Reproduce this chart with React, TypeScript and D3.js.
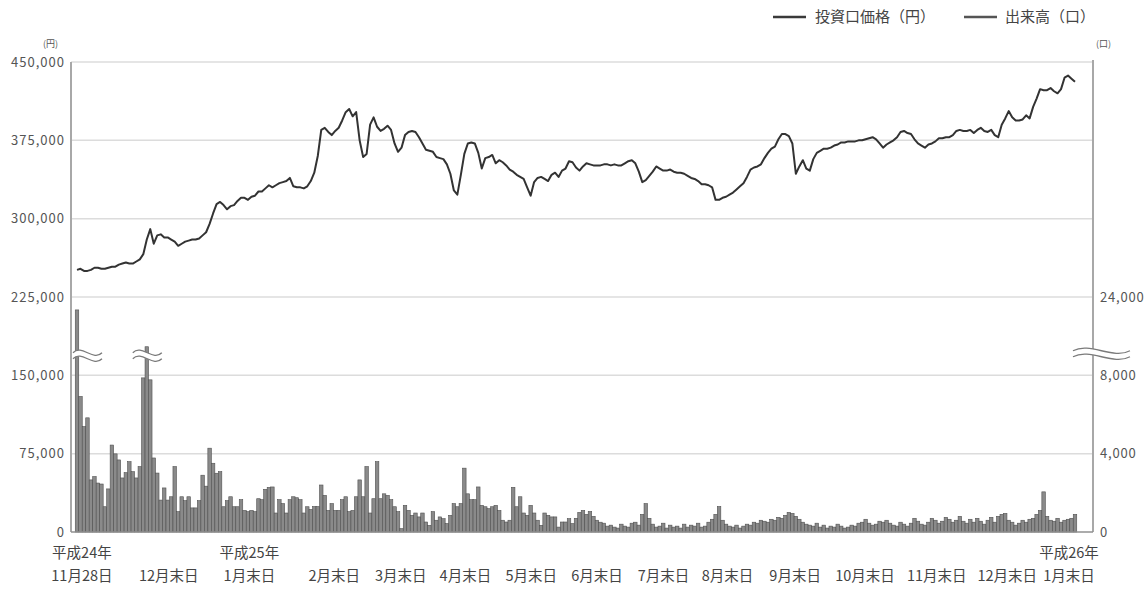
import { useMemo } from "react";
import * as d3 from "d3";

const WIDTH = 1148;
const HEIGHT = 589;
// plot frame in page pixels
const FRAME = { left: 71, right: 1093, top: 62, bottom: 532 };
const JP_FONT = "'Noto Sans CJK JP', 'Noto Sans', sans-serif";

// 投資口価格 (千円), one value per trading day from H24/11/28
const priceK = [
  251, 252, 250, 250, 251, 253, 253, 252, 252, 253,
  254, 254, 256, 257, 258, 257, 257, 259, 261, 266,
  280, 290, 276, 284, 285, 282, 282, 280, 278, 274,
  276, 278, 279, 280, 280, 281, 284, 287, 295, 305,
  314, 316, 313, 309, 312, 313, 317, 320, 320, 318,
  321, 322, 326, 326, 329, 332, 330, 332, 334, 335,
  336, 339, 331, 330, 330, 329, 331, 336, 344, 360,
  385, 387, 383, 380, 384, 387, 394, 402, 405, 398,
  402, 375, 359, 362, 390, 397, 388, 384, 386, 389,
  385, 372, 364, 368, 380, 383, 384, 383, 378, 372,
  366, 365, 364, 359, 358, 357, 352, 343, 327, 323,
  342, 362, 372, 373, 372, 363, 348, 358, 359, 361,
  353, 356, 354, 351, 347, 345, 342, 340, 338, 330,
  322, 335, 339, 340, 338, 336, 342, 344, 340, 346,
  348, 355, 354, 349, 346, 350, 353, 352, 351, 351,
  351, 352, 352, 351, 352, 351, 351, 353, 355, 356,
  353, 345, 335, 337, 341, 345, 350, 348, 346, 346,
  347, 345, 344, 344, 343, 341, 339, 338, 336, 333,
  333, 332, 330, 318, 318, 320, 321, 323, 325, 328,
  331, 334, 340, 347, 349, 350, 352, 358, 363, 367,
  369, 376, 381, 381, 379, 372, 343, 350, 356, 348,
  346, 357, 363, 365, 367, 367, 368, 370, 371, 373,
  373, 374, 374, 374, 375, 375, 376, 377, 378, 376,
  372, 368, 371, 373, 375, 378, 383, 384, 382, 381,
  376, 372, 370, 368, 371, 372, 374, 377, 377, 378,
  378, 380, 384, 385, 384, 384, 385, 382, 385, 387,
  384, 383, 385, 380, 378, 390, 396, 403, 397, 394,
  394, 395, 399, 396, 407, 415, 424, 423, 423, 425,
  422, 420, 424, 435, 437, 434, 431,
];

// 出来高 (口), same days
const volume = [
  20700, 6920, 5380, 5830, 2660, 2830, 2500, 2450, 1290, 2200,
  4440, 3990, 3680, 2760, 3030, 3590, 3080, 2760, 3340, 7870,
  11300, 7770, 3780, 3010, 1630, 2250, 1630, 1800, 3340, 1040,
  1800, 1600, 1800, 1230, 1230, 1600, 2900, 2340, 4280, 3510,
  3000, 3080, 1290, 1600, 1800, 1290, 1290, 1650, 1100, 1040,
  1100, 1040, 1700, 1650, 2180, 2280, 2300, 970, 1650, 1450,
  970, 1650, 1800, 1750, 1650, 970, 1290, 1150, 1300, 1300,
  2400, 1870, 1100, 1450, 1100, 1100, 1650, 1800, 1040, 1100,
  1800, 2660, 1800, 3340, 970, 1700, 3590, 1700, 1950, 1870,
  1650, 1290, 1040, 170, 1360, 1100, 850, 970, 770, 970,
  510, 340, 1040, 600, 770, 680, 430, 850, 1450, 1290,
  1450, 3260, 1950, 1650, 1650, 2300, 1360, 1290, 1190, 1290,
  1360, 1100, 600, 510, 600, 2280, 1290, 1800, 970, 850,
  1360, 970, 600, 340, 970, 850, 770, 770, 250, 510,
  510, 680, 430, 700, 1000, 1100, 900, 1050, 800, 600,
  500, 450, 300, 350, 250, 200, 400, 300, 250, 450,
  500, 350, 900, 1450, 700, 400, 250, 300, 450, 200,
  350, 250, 300, 200, 400, 250, 350, 300, 450, 250,
  300, 500, 650, 900, 1300, 600, 400, 300, 250, 350,
  200, 300, 400, 350, 500, 450, 600, 550, 500, 650,
  600, 750, 700, 850, 1000, 950, 800, 650, 500, 400,
  350, 300, 450, 250, 350, 200, 300, 250, 400, 300,
  200, 250, 350, 300, 450, 500, 650, 450, 350, 400,
  550, 500, 600, 450, 350, 300, 500, 400, 300, 450,
  700, 550, 400, 350, 500, 700, 600, 450, 550, 750,
  650, 500, 600, 800, 550, 450, 650, 500, 700, 550,
  400, 600, 750, 500, 800, 900, 950, 600, 500, 350,
  450, 600, 500, 650, 700, 900, 1100, 2050, 800, 600,
  550, 700, 500, 600, 650, 700, 900,
];

// axis ticks
const priceTicks = [0, 75000, 150000, 225000, 300000, 375000, 450000];
const volumeTicks = [0, 4000, 8000, 24000];
const VOLUME_BREAK = 9000;

// x labels: day position of each label, month text, optional year above
const xLabelDay = [1.4, 26.3, 49.4, 73.7, 92.8, 111.3, 130.2, 149, 168.1, 186.4, 205.8, 225.8, 246.4, 266.6, 284.3];
const xLabelText = [
  "11月28日", "12月末日", "1月末日", "2月末日", "3月末日", "4月末日", "5月末日",
  "6月末日", "7月末日", "8月末日", "9月末日", "10月末日", "11月末日", "12月末日", "1月末日",
];
const xLabelYear = ["平成24年", "", "平成25年", "", "", "", "", "", "", "", "", "", "", "", "平成26年"];

// volume bars that cross the axis break
const brokenBars = [0, 20];

const fmt = d3.format(",");

// "~~" shaped double line with white inside, used for the break marks
const BreakMark = ({ x0, x1, y }: { x0: number; x1: number; y: number }) => {
  const w = x1 - x0;
  const wave = (dy: number) =>
    `M${x0},${y + dy} C${x0 + w * 0.3},${y + dy - 9} ${x0 + w * 0.7},${y + dy + 9} ${x1},${y + dy}`;
  const back = (dy: number) =>
    `L${x1},${y + dy} C${x0 + w * 0.7},${y + dy + 9} ${x0 + w * 0.3},${y + dy - 9} ${x0},${y + dy}`;
  return (
    <g>
      <path d={wave(-3) + " " + back(3) + "Z"} fill="#fff" />
      <path d={wave(-3)} fill="none" stroke="#7a7a7a" strokeWidth={1.3} />
      <path d={wave(3)} fill="none" stroke="#7a7a7a" strokeWidth={1.3} />
    </g>
  );
};

export default function App() {
  const n = priceK.length;

  const xScale = useMemo(
    () => d3.scaleLinear().domain([0, n - 1]).range([77, 1075]),
    [n]
  );
  const step = xScale(1) - xScale(0);

  const yPrice = d3.scaleLinear().domain([0, 450000]).range([FRAME.bottom, FRAME.top]);
  // volume axis: 4,000口 sits on 75,000円, broken above ~9,000口
  const yVolume = d3
    .scaleLinear()
    .domain([0, VOLUME_BREAK, 24000])
    .range([yPrice(0), yPrice((VOLUME_BREAK / 4000) * 75000), yPrice(225000)]);

  const line = d3
    .line<number>()
    .x((_, i) => xScale(i))
    .y((d) => yPrice(d * 1000));

  const breakY = yVolume(VOLUME_BREAK);

  const bars = volume.map((v, i) => (
    <rect
      key={i}
      x={xScale(i) - step / 2}
      y={yVolume(v)}
      width={step}
      height={yVolume(0) - yVolume(v)}
      fill="#8a8a8a"
      stroke="#505050"
      strokeWidth={0.6}
    />
  ));

  return (
    <svg
      width={WIDTH}
      height={HEIGHT}
      style={{ position: "absolute", left: 0, top: 0, background: "#fff" }}
    >
      {/* legend */}
      <g fontFamily={JP_FONT} fontSize={15} fill="#444">
        <line x1={773} x2={806} y1={17} y2={17} stroke="#3a3a3a" strokeWidth={2.5} />
        <text x={815} y={22}>投資口価格（円）</text>
        <line x1={964} x2={997} y1={17} y2={17} stroke="#555" strokeWidth={2.5} />
        <text x={1005} y={22}>出来高（口）</text>
      </g>

      {/* grid */}
      {priceTicks.filter((t) => t > 0).map((t) => (
        <line
          key={t}
          x1={FRAME.left}
          x2={FRAME.right}
          y1={yPrice(t)}
          y2={yPrice(t)}
          stroke="#dcdcdc"
          strokeWidth={1.5}
        />
      ))}

      {/* volume bars */}
      <g>{bars}</g>

      {/* price line */}
      <path d={line(priceK) ?? ""} fill="none" stroke="#333" strokeWidth={2} strokeLinejoin="round" />

      {/* break marks on tall bars and right axis */}
      {brokenBars.map((i) => (
        <BreakMark key={i} x0={xScale(i) - 4 + (i ? -10 : 0)} x1={xScale(i) + 25 - (i ? 10 : 0)} y={breakY} />
      ))}

      {/* axes */}
      <line x1={FRAME.left} x2={FRAME.left} y1={FRAME.top} y2={FRAME.bottom} stroke="#a8a8a8" strokeWidth={2} />
      <line x1={FRAME.right} x2={FRAME.right} y1={FRAME.top - 2} y2={FRAME.bottom} stroke="#a8a8a8" strokeWidth={2} />
      <line x1={FRAME.left} x2={FRAME.right} y1={FRAME.bottom} y2={FRAME.bottom} stroke="#909090" strokeWidth={1.5} />
      <BreakMark x0={FRAME.right - 20} x1={FRAME.right + 37} y={breakY - 2} />

      {/* left axis labels */}
      <g fontFamily={JP_FONT} fontSize={13} fill="#555" textAnchor="end" letterSpacing={1}>
        <text x={58} y={47} fontSize={9} letterSpacing={0}>(円)</text>
        {priceTicks.map((t) => (
          <text key={t} x={65} y={yPrice(t)} dy="0.35em">
            {fmt(t)}
          </text>
        ))}
      </g>

      {/* right axis labels */}
      <g fontFamily={JP_FONT} fontSize={13} fill="#555" letterSpacing={0.8}>
        <text x={1096} y={47} fontSize={9} letterSpacing={0}>(口)</text>
        {volumeTicks.map((t) => (
          <text key={t} x={1100} y={yVolume(t)} dy="0.35em">
            {fmt(t)}
          </text>
        ))}
      </g>

      {/* x labels */}
      <g fontFamily={JP_FONT} fontSize={14.5} fill="#444" textAnchor="middle">
        {xLabelDay.map((d, i) => (
          <g key={i}>
            {xLabelYear[i] && (
              <text x={xScale(d)} y={558}>
                {xLabelYear[i]}
              </text>
            )}
            <text x={xScale(d)} y={581}>
              {xLabelText[i]}
            </text>
          </g>
        ))}
      </g>
    </svg>
  );
}
